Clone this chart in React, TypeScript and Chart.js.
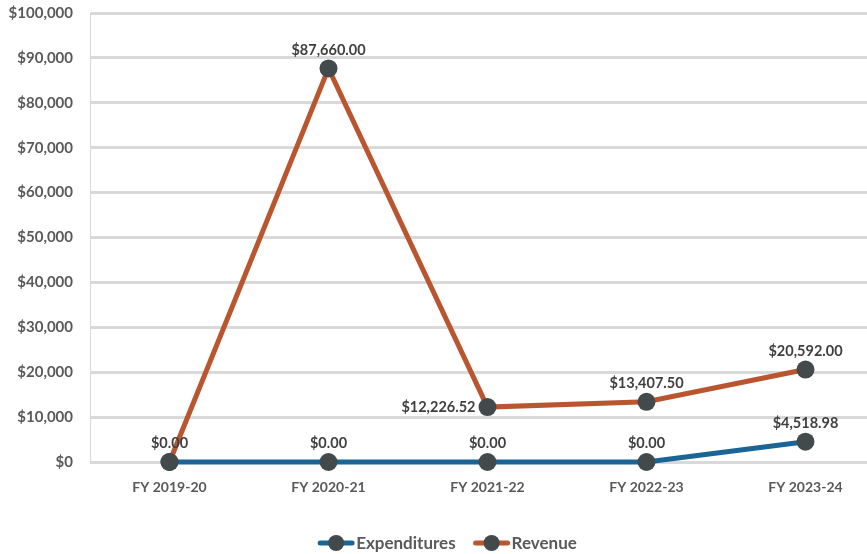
import React, { useEffect, useRef } from "react";
import { Chart, registerables } from "chart.js";

Chart.register(...registerables);

const categories = ["FY 2019-20", "FY 2020-21", "FY 2021-22", "FY 2022-23", "FY 2023-24"];
const expenditures = [0, 0, 0, 0, 4518.98];
const revenue = [0, 87660.0, 12226.52, 13407.5, 20592.0];
const seriesNames = ["Expenditures", "Revenue"];
const yTickMax = 100000;
const yTickStep = 10000;

const BLUE = "#1A6496";
const ORANGE = "#B9552F";
const MARKER = "#434A4C";
const TEXT = "#595959";
const LABEL = "#404040";
const FONT = "Lato, 'Open Sans', sans-serif";

function fmtMoney(v: number) {
  return "$" + v.toLocaleString("en-US", { minimumFractionDigits: 2, maximumFractionDigits: 2 });
}

const dataLabelPlugin = {
  id: "dataLabels",
  afterDatasetsDraw(chart: any) {
    const ctx = chart.ctx;
    ctx.save();
    ctx.font = `bold 14.5px ${FONT}`;
    ctx.fillStyle = LABEL;
    chart.data.datasets.forEach((ds: any, di: number) => {
      const meta = chart.getDatasetMeta(di);
      meta.data.forEach((pt: any, i: number) => {
        const v = ds.data[i] as number;
        const text = fmtMoney(v);
        if (di === 1 && i === 2) {
          ctx.textAlign = "right";
          ctx.textBaseline = "middle";
          ctx.fillText(text, pt.x - 12, pt.y);
        } else if (di === 1 && i === 0) {
          return;
        } else {
          ctx.textAlign = "center";
          ctx.textBaseline = "bottom";
          ctx.fillText(text, pt.x, pt.y - 11);
        }
      });
    });
    ctx.restore();
  },
};

const legendPlugin = {
  id: "lineLegend",
  afterDraw(chart: any) {
    const ctx = chart.ctx;
    ctx.save();
    ctx.font = `bold 17px ${FONT}`;
    const iconW = 36;
    const textGap = 2;
    const itemGap = 18;
    const items = chart.data.datasets.map((ds: any) => ({
      label: ds.label as string,
      color: ds.borderColor as string,
      w: iconW + textGap + ctx.measureText(ds.label).width,
    }));
    const total = items.reduce((a: number, it: any) => a + it.w, 0) + itemGap * (items.length - 1);
    let x = chart.width / 2 + 5 - total / 2;
    const y = chart.height - 11;
    items.forEach((it: any) => {
      ctx.strokeStyle = it.color;
      ctx.lineWidth = 5;
      ctx.lineCap = "round";
      ctx.beginPath();
      ctx.moveTo(x + 2, y);
      ctx.lineTo(x + iconW - 2, y);
      ctx.stroke();
      ctx.fillStyle = MARKER;
      ctx.beginPath();
      ctx.arc(x + iconW / 2, y, 8, 0, Math.PI * 2);
      ctx.fill();
      ctx.fillStyle = TEXT;
      ctx.textAlign = "left";
      ctx.textBaseline = "middle";
      ctx.fillText(it.label, x + iconW + textGap, y + 1);
      x += it.w + itemGap;
    });
    ctx.restore();
  },
};

export default function App() {
  const ref = useRef<HTMLCanvasElement>(null);
  useEffect(() => {
    const chart = new Chart(ref.current!, {
      type: "line",
      data: {
        labels: categories,
        datasets: [
          {
            label: seriesNames[0],
            data: expenditures,
            borderColor: BLUE,
            backgroundColor: MARKER,
            borderWidth: 5,
            pointRadius: 9,
            pointBackgroundColor: MARKER,
            pointBorderColor: MARKER,
            pointBorderWidth: 0,
            clip: false as any,
            order: 1,
          },
          {
            label: seriesNames[1],
            data: revenue,
            borderColor: ORANGE,
            backgroundColor: MARKER,
            borderWidth: 5,
            pointRadius: 9,
            pointBackgroundColor: MARKER,
            pointBorderColor: MARKER,
            pointBorderWidth: 0,
            clip: false as any,
            order: 2,
          },
        ],
      },
      options: {
        animation: false,
        responsive: true,
        maintainAspectRatio: false,
        layout: { autoPadding: false, padding: { top: 0, right: 0, left: 0, bottom: 32 } },
        plugins: {
          tooltip: { enabled: false },
          legend: { display: false },
        },
        scales: {
          x: {
            offset: true,
            grid: { display: false, drawTicks: false, offset: false },
            border: { display: true, color: "#d9d9d9", width: 1 },
            ticks: {
              color: TEXT,
              font: { family: FONT, size: 14, weight: "bold" },
              padding: 17,
            },
            afterFit: (s: any) => {
              s.height = 60;
            },
          },
          y: {
            min: 0,
            max: yTickMax,
            ticks: {
              stepSize: yTickStep,
              color: TEXT,
              font: { family: FONT, size: 15, weight: "bold" },
              padding: 17,
              callback: (v: any) => "$" + Number(v).toLocaleString("en-US"),
            },
            grid: { color: "#d9d9d9", lineWidth: 3, drawTicks: false },
            border: { display: true, color: "#d9d9d9", width: 1 },
            afterFit: (s: any) => {
              s.width = 90;
              s.paddingTop = 13;
            },
          },
        },
      },
      plugins: [dataLabelPlugin, legendPlugin],
    });
    return () => chart.destroy();
  }, []);
  return (
    <div style={{ position: "fixed", left: 0, top: 0, width: 885, height: 554, background: "#fff" }}>
      <canvas ref={ref} />
    </div>
  );
}
